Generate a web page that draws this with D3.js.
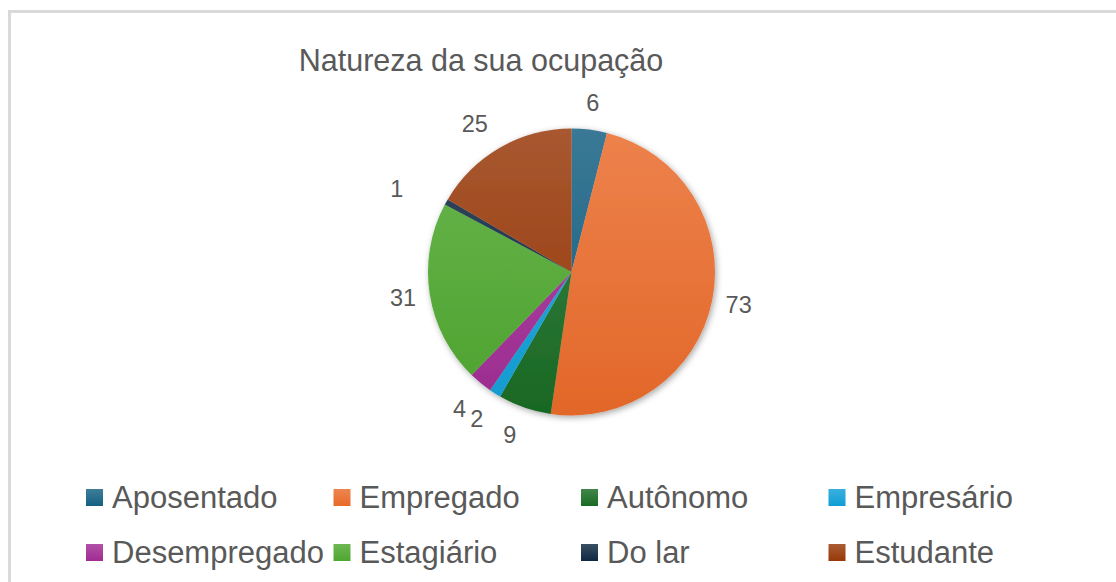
<!doctype html>
<html>
<head>
<meta charset="utf-8">
<style>
  body { margin: 0; background: #fff; }
  svg text { font-family: "Liberation Sans", Arial, sans-serif; fill: #595959; }
</style>
</head>
<body>
    <div class="container"></div>

    <script src="https://d3js.org/d3.v7.min.js"></script>

    <script>
        // data
        const categories = ['Aposentado', 'Empregado', 'Autônomo', 'Empresário', 'Desempregado', 'Estagiário', 'Do lar', 'Estudante']
        const values = [6, 73, 9, 2, 4, 31, 1, 25]
        const colors = ['#156082', '#E96A2A', '#196B24', '#0F9ED5', '#A02B93', '#4EA72E', '#0E2841', '#983808']
        const title = 'Natureza da sua ocupação'

        const width = 1116, height = 582
        const cx = 571.5, cy = 272, r = 143.5

        const svg = d3.select('.container').append('svg').attr('width', width).attr('height', height)

        // chart border (runs off the right/bottom of the window)
        svg.append('rect')
            .attr('x', 9.5).attr('y', 11.5)
            .attr('width', 1200).attr('height', 700)
            .attr('fill', '#fff')
            .attr('stroke', '#d9d9d9')
            .attr('stroke-width', 3)

        svg.append('text')
            .attr('x', 481).attr('y', 71)
            .attr('text-anchor', 'middle')
            .style('font-size', '30.5px')
            .text(title)

        const defs = svg.append('defs')
        const shadow = defs.append('filter').attr('id', 'shadow')
            .attr('x', '-20%').attr('y', '-20%').attr('width', '140%').attr('height', '140%')
        shadow.append('feDropShadow')
            .attr('dx', 1.5).attr('dy', 2).attr('stdDeviation', 3)
            .attr('flood-color', '#000').attr('flood-opacity', 0.35)

        // vertical gradient over the whole pie, lighter at the top
        colors.forEach((c, i) => {
            const g = defs.append('linearGradient').attr('id', 'grad' + i)
                .attr('gradientUnits', 'userSpaceOnUse')
                .attr('x1', 0).attr('x2', 0).attr('y1', -r).attr('y2', r)
            g.append('stop').attr('offset', '0%').attr('stop-color', d3.interpolateRgb(c, '#fff')(0.16))
            g.append('stop').attr('offset', '100%').attr('stop-color', d3.color(c).darker(0.08))
        })

        const pie = d3.pie().sort(null).value(d => d)
        const arcs = pie(values)
        const arc = d3.arc().innerRadius(0).outerRadius(r)
        const labelArc = d3.arc().innerRadius(r + 27).outerRadius(r + 27)

        const g = svg.append('g').attr('transform', `translate(${cx},${cy})`)
        g.append('g').attr('filter', 'url(#shadow)')
            .selectAll('path').data(arcs).enter().append('path')
            .attr('d', arc)
            .attr('fill', (d, i) => `url(#grad${i})`)

        // small nudges Excel applies to crowded labels
        const nudge = { 6: [-26, 0], 7: [-12, 0], 4: [-4, 5], 3: [-4, 3], 2: [-6, 2] }
        g.selectAll('text.lbl').data(arcs).enter().append('text')
            .attr('class', 'lbl')
            .attr('x', (d, i) => labelArc.centroid(d)[0] + (nudge[i] ? nudge[i][0] : 0))
            .attr('y', (d, i) => labelArc.centroid(d)[1] + (nudge[i] ? nudge[i][1] : 0))
            .attr('text-anchor', 'middle')
            .attr('dominant-baseline', 'central')
            .style('font-size', '23.5px')
            .text(d => d.data)

        colors.forEach((c, i) => {
            const lg = defs.append('linearGradient').attr('id', 'lg' + i)
                .attr('x1', 0).attr('x2', 0).attr('y1', 0).attr('y2', 1)
            lg.append('stop').attr('offset', '0%').attr('stop-color', d3.interpolateRgb(c, '#fff')(0.18))
            lg.append('stop').attr('offset', '100%').attr('stop-color', c)
        })

        // legend, 2 rows x 4 columns
        const legend = svg.append('g')
        const item = legend.selectAll('g').data(categories).enter().append('g')
            .attr('transform', (d, i) => `translate(${86 + (i % 4) * 247.5},${497 + Math.floor(i / 4) * 55})`)
        item.append('rect')
            .attr('x', 0).attr('y', -8).attr('width', 17).attr('height', 17)
            .attr('fill', (d, i) => `url(#lg${i})`)
        item.append('text')
            .attr('x', 26).attr('y', 0)
            .attr('dominant-baseline', 'central')
            .style('font-size', '31px')
            .text(d => d)
    </script>
</body>
</html>
